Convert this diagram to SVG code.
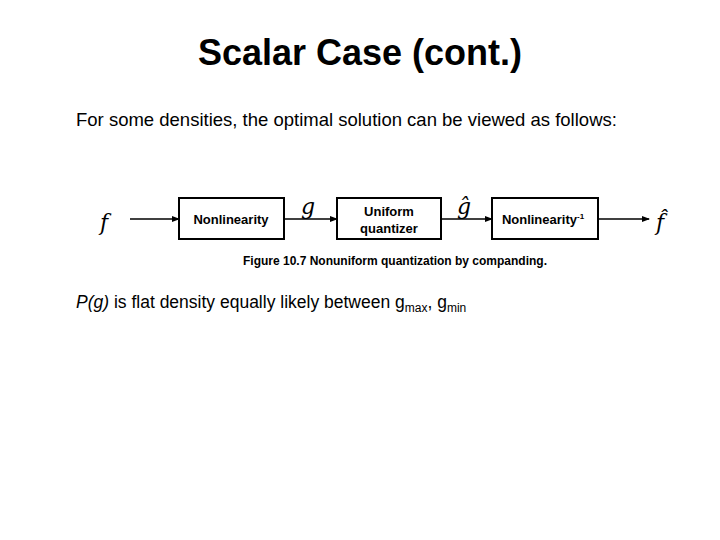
<svg xmlns="http://www.w3.org/2000/svg" width="720" height="540" viewBox="0 0 720 540">
<style>
.s{font-family:"Liberation Sans",Arial,sans-serif}
.b{fill:#fff;stroke:#000;stroke-width:2}
.t{font-family:"Liberation Sans",Arial,sans-serif;font-size:13px;font-weight:bold;text-anchor:middle}
.m{font-family:"DejaVu Serif","Liberation Serif",serif;font-style:italic;font-size:22px;text-anchor:middle}
.l{stroke:#000;stroke-width:1.5;marker-end:url(#a)}
</style>
<defs><marker id="a" markerWidth="8" markerHeight="8" refX="7" refY="4" orient="auto" markerUnits="userSpaceOnUse"><path d="M0,1L8,4L0,7z"/></marker></defs>
<rect width="720" height="540" fill="#fff"/>
<text class="s" x="360" y="65" font-size="36" font-weight="bold" text-anchor="middle">Scalar Case (cont.)</text>
<text class="s" x="76" y="126" font-size="18.5">For some densities, the optimal solution can be viewed as follows:</text>
<g id="connectors">
<line class="l" x1="130" y1="219" x2="179" y2="219"/>
<line class="l" x1="284" y1="219" x2="337" y2="219"/>
<line class="l" x1="441" y1="219" x2="492" y2="219"/>
<line class="l" x1="598" y1="219" x2="649" y2="219"/>
</g>
<g id="n1"><rect class="b" x="179" y="198" width="105" height="41"/><text class="t" x="231" y="224">Nonlinearity</text></g>
<g id="n2"><rect class="b" x="337" y="198" width="104" height="41"/><text class="t" x="389" y="216">Uniform</text><text class="t" x="389" y="233">quantizer</text></g>
<g id="n3"><rect class="b" x="492" y="198" width="106" height="41"/><text class="t" x="543" y="224">Nonlinearity<tspan font-size="8" dy="-5">-1</tspan></text></g>
<text class="m" x="104" y="230">f</text>
<text class="m" x="308" y="214">g</text>
<text class="m" x="464" y="214">ĝ</text>
<text class="m" x="660" y="230">f&#x302;</text>
<text class="s" x="395" y="265" font-size="12" font-weight="bold" text-anchor="middle">Figure 10.7 Nonuniform quantization by companding.</text>
<text class="s" x="76" y="308" font-size="17.5"><tspan font-style="italic">P(g)</tspan> is flat density equally likely between g<tspan font-size="12" dy="4">max</tspan><tspan dy="-4">, g</tspan><tspan font-size="12" dy="4">min</tspan></text>
</svg>
